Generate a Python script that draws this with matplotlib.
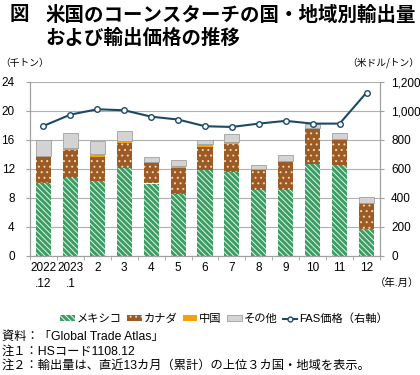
import matplotlib
matplotlib.use("Agg")
import matplotlib.pyplot as plt
from matplotlib.patches import Patch
from matplotlib.lines import Line2D
import numpy as np

plt.rcParams['font.family'] = ['Liberation Sans', 'Noto Sans CJK JP']
plt.rcParams['hatch.linewidth'] = 0.7

months = ["2022\n.12", "2023\n.1", "2", "3", "4", "5", "6", "7", "8", "9", "10", "11", "12"]
# 千トン (stack values)
mexico = [10.1, 10.8, 10.4, 12.2, 10.0, 8.5, 11.9, 11.55, 9.1, 9.1, 12.75, 12.5, 3.75]
canada = [3.5, 3.8, 3.2, 3.35, 2.9, 3.7, 3.2, 3.95, 2.7, 3.9, 4.75, 3.45, 3.5]
china = [0.25, 0.25, 0.4, 0.35, 0.1, 0.2, 0.3, 0.2, 0.2, 0.1, 0.2, 0.2, 0.05]
other = [2.1, 2.15, 1.8, 1.35, 0.6, 0.9, 0.6, 1.1, 0.6, 0.8, 0.5, 0.75, 0.9]
# 米ドル/トン
fas_price = [897, 975, 1012, 1005, 961, 941, 895, 890, 913, 932, 913, 913, 1127]

fig = plt.figure(figsize=(4.2, 3.75), dpi=100)
ax = fig.add_axes([30 / 420, 1 - 256 / 375, 350 / 420, 174 / 375])

x = np.arange(len(months))
w = 0.56
green = "#3a9e62"
brown = "#9c5a25"
orange = "#f5a00f"
gray = "#d3d3d3"
navy = "#1b4a66"
mex_hatch = "\\\\\\\\\\\\"
can_hatch = "..."

b1 = np.array(mexico)
b2 = b1 + np.array(canada)
b3 = b2 + np.array(china)

ax.bar(x, mexico, w, color=green, edgecolor="#e6f4ea", hatch=mex_hatch, linewidth=0, zorder=2)
ax.bar(x, canada, w, bottom=b1, color=brown, edgecolor="#f0d8b8", hatch=can_hatch, linewidth=0, zorder=2)
ax.bar(x, china, w, bottom=b2, color=orange, linewidth=0, zorder=2)
ax.bar(x, other, w, bottom=b3, color=gray, edgecolor="#a0a0a0", linewidth=0.6, zorder=2)

ax.set_xlim(-0.5, len(months) - 0.5)
ax.set_ylim(0, 24)
ax.set_yticks(range(0, 25, 4))
ax.grid(axis="y", color="#b0b0b0", linewidth=0.8, zorder=0)
ax.set_axisbelow(True)
ax.set_xticks(x)
ax.set_xticklabels(months, fontsize=8.5, linespacing=1.5, va="top")
ax.tick_params(axis="x", length=0, pad=4)
ax.set_xticks(np.arange(-0.5, len(months), 1), minor=True)
ax.tick_params(axis="x", which="minor", length=3, color="#a0a0a0")
ax.tick_params(axis="y", labelsize=8.5, length=3, color="#a0a0a0", pad=8)
ax.spines["top"].set_visible(False)
for s in ["left", "bottom", "right"]:
    ax.spines[s].set_color("#a0a0a0")

ax2 = ax.twinx()
ax2.plot(x, fas_price, color=navy, linewidth=1.5, marker="o", markersize=4,
         markerfacecolor="white", markeredgecolor=navy, markeredgewidth=1, zorder=5)
ax2.set_ylim(0, 1200)
ax2.set_yticks(range(0, 1201, 200))
ax2.set_yticklabels([f"{v:,}" for v in range(0, 1201, 200)])
ax2.tick_params(axis="y", labelsize=8.5, length=3, color="#a0a0a0", pad=5)
ax2.spines["top"].set_visible(False)
for s in ["left", "bottom", "right"]:
    ax2.spines[s].set_color("#a0a0a0")

title_font = dict(fontsize=14, fontweight="bold", va="center", family="Noto Sans CJK JP")
fig.text(10 / 420, 1 - 15 / 375, "図", **title_font)
fig.text(45 / 420, 1 - 15 / 375, "米国のコーンスターチの国・地域別輸出量", **title_font)
fig.text(45 / 420, 1 - 38 / 375, "および輸出価格の推移", **title_font)
fig.text(0, 1 - 63 / 375, "（千トン）", fontsize=7, va="center", family="Noto Sans CJK JP")
fig.text(419 / 420, 1 - 63 / 375, "（米ドル/トン）", fontsize=7, va="center", ha="right",
         family="Noto Sans CJK JP")
fig.text(419 / 420, 1 - 283 / 375, "（年.月）", fontsize=7.5, va="center", ha="right",
         family=["Liberation Sans", "Noto Sans CJK JP"])

handles = [
    Patch(facecolor=green, edgecolor="#e6f4ea", hatch=mex_hatch, linewidth=0),
    Patch(facecolor=brown, edgecolor="#f0d8b8", hatch=can_hatch, linewidth=0),
    Patch(facecolor=orange, linewidth=0),
    Patch(facecolor=gray, edgecolor="#a0a0a0", linewidth=0.6),
    Line2D([0], [0], color=navy, linewidth=1.5, marker="o", markersize=3.5,
           markerfacecolor="white", markeredgecolor=navy),
]
labels = ["メキシコ", "カナダ", "中国", "その他", "FAS価格（右軸）"]
fig.legend(handles, labels, loc="center", bbox_to_anchor=(224 / 420, 1 - 319 / 375), ncol=5,
           frameon=False, fontsize=8.1, handlelength=1.3, handleheight=0.4, handletextpad=0.15,
           columnspacing=0.5, borderaxespad=0, borderpad=0)

notes = ["資料：「Global Trade Atlas」", "注１：HSコード1108.12",
         "注２：輸出量は、直近13カ月（累計）の上位３カ国・地域を表示。"]
for i, n in enumerate(notes):
    fig.text(2 / 420, 1 - (337 + 14.5 * i) / 375, n, fontsize=8.8, va="center")

fig.savefig("out.png", dpi=100)
